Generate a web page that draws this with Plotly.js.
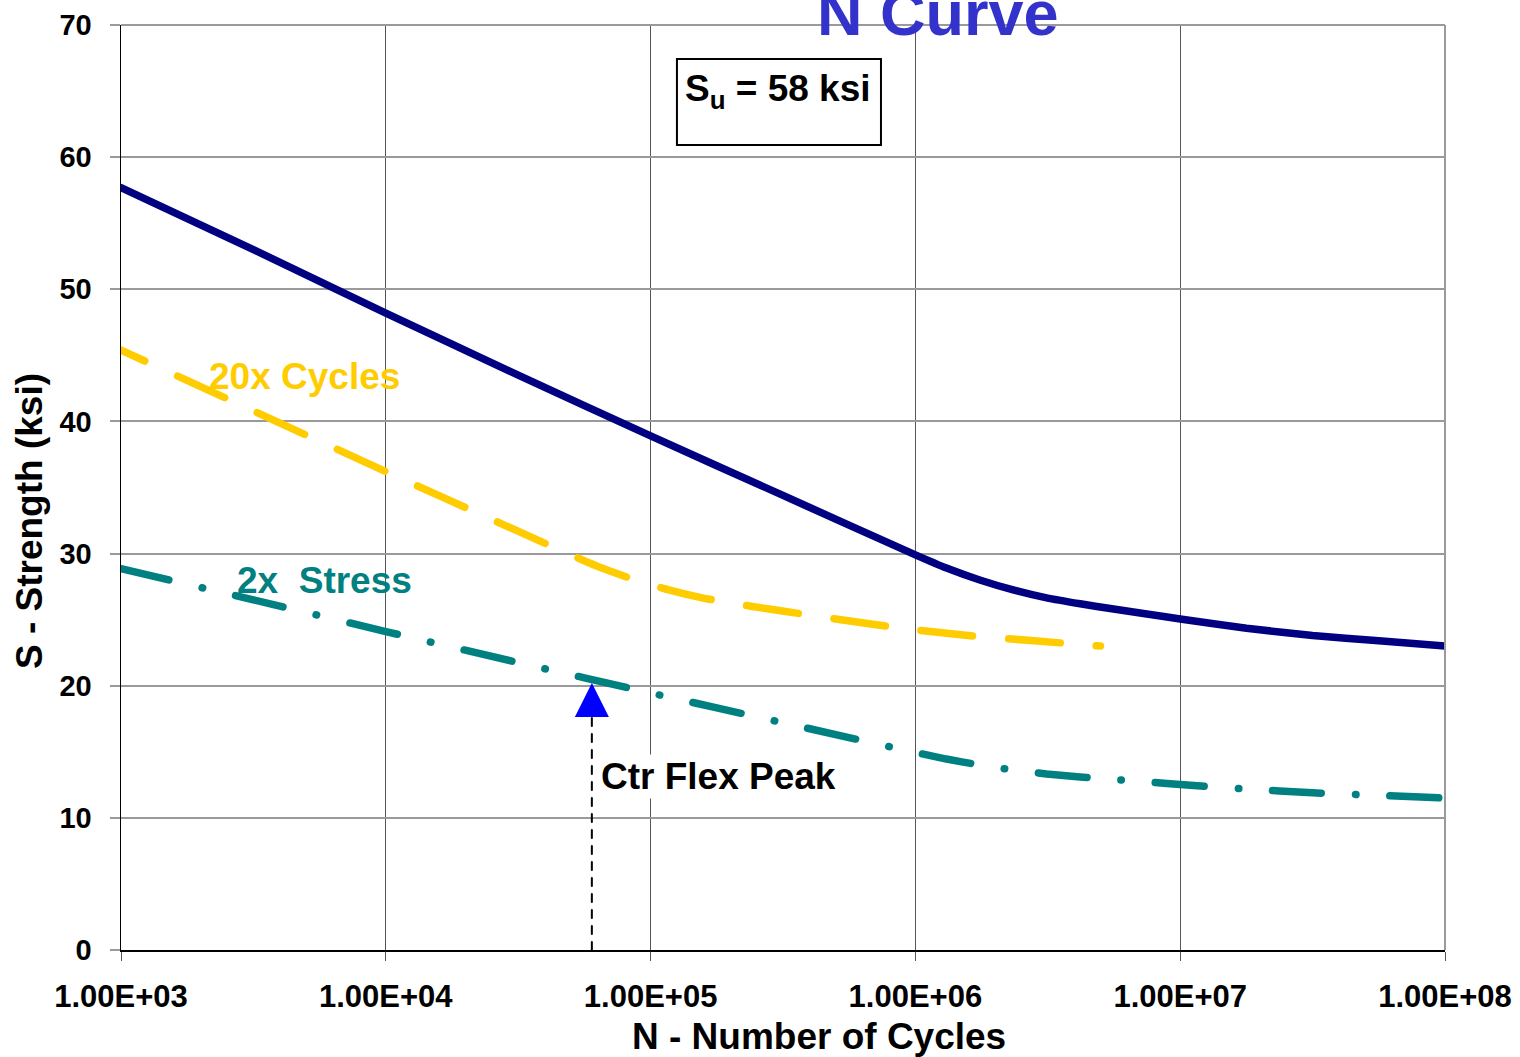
<!DOCTYPE html>
<html><head><meta charset="utf-8">
<script src="https://cdn.plot.ly/plotly-3.0.1.min.js"></script>
<style>
html,body{margin:0;padding:0;background:#fff;}
#chart{width:1520px;height:1057px;}
.scatterlayer .js-line{stroke-linecap:round;}
</style></head><body><div id="chart"></div>
<script>
// Base S-N curve
const blueN = [1000, 3162, 10000, 31623, 100000, 316228, 1000000, 1310000, 1750000, 2340000, 3130000, 4190000, 5600000, 7480000, 10000000, 17800000, 31600000, 56200000, 100000000];
const blueS = [57.7, 53.0, 48.2, 43.5, 38.9, 34.4, 29.9, 28.9, 28.0, 27.25, 26.65, 26.2, 25.8, 25.43, 25.05, 24.35, 23.8, 23.4, 23.0];
// 20x Cycles curve
const yellowN = [1000, 3162, 10000, 15811, 50000, 65500, 87500, 117000, 156500, 209500, 280000, 374000, 500000, 890000, 1580000, 2810000, 5000000];
const yellowS = [45.4, 40.8, 36.2, 34.4, 29.9, 28.9, 28.0, 27.25, 26.65, 26.2, 25.8, 25.43, 25.05, 24.35, 23.8, 23.4, 23.0];
// 2x Stress curve
const tealN = [1000, 3162, 10000, 31623, 100000, 316228, 1000000, 1310000, 1750000, 2340000, 3130000, 4190000, 5600000, 7480000, 10000000, 17800000, 31600000, 56200000, 100000000];
const tealS = [28.85, 26.5, 24.1, 21.75, 19.45, 17.2, 14.95, 14.45, 14.0, 13.62, 13.32, 13.1, 12.9, 12.72, 12.52, 12.18, 11.9, 11.7, 11.5];
// Ctr Flex Peak marker
const peakN = [60000];
const peakS = [20.2];
// Ticks
const xTickVals = [1e3, 1e4, 1e5, 1e6, 1e7, 1e8];
const xTickText = ['1.00E+03', '1.00E+04', '1.00E+05', '1.00E+06', '1.00E+07', '1.00E+08'];
const yTickVals = [0, 10, 20, 30, 40, 50, 60, 70];

const FONT = 'Liberation Sans, Arial, Helvetica, sans-serif';

const traces = [
  {x: tealN, y: tealS, mode: 'lines', hoverinfo: 'skip',
   line: {color: '#008080', width: 7.5, dash: '49px,34px,0.5px,34px', shape: 'spline', smoothing: 0.5}},
  {x: yellowN, y: yellowS, mode: 'lines', hoverinfo: 'skip',
   line: {color: '#FFCC00', width: 7.5, dash: '52px,36px', shape: 'spline', smoothing: 0.5}},
  {x: blueN, y: blueS, mode: 'lines', hoverinfo: 'skip',
   line: {color: '#000080', width: 7.5, shape: 'spline', smoothing: 0.5}},
  {x: [peakN[0], peakN[0]], y: [0, peakS[0]], mode: 'lines', hoverinfo: 'skip',
   line: {color: '#000000', width: 2, dash: '8px,8px'}},
  {x: peakN, y: peakS, mode: 'markers', hoverinfo: 'skip',
   marker: {symbol: 'arrow-up', size: 34, color: '#0000FF', line: {width: 0}}}
];

const layout = {
  width: 1520, height: 1057,
  margin: {l: 121, r: 75, t: 25, b: 107},
  paper_bgcolor: '#ffffff', plot_bgcolor: '#ffffff',
  showlegend: false,
  font: {family: FONT, color: '#000000'},
  xaxis: {
    type: 'log', range: [3, 8],
    tickmode: 'array', tickvals: xTickVals, ticktext: xTickText,
    tickfont: {size: 31, weight: 'bold', family: FONT},
    showgrid: true, gridcolor: '#555555', gridwidth: 1,
    ticks: 'outside', ticklen: 9, tickcolor: '#555555', tickwidth: 1,
    ticklabelstandoff: 9,
    showline: true, linecolor: '#000000', linewidth: 2,
    zeroline: false
  },
  yaxis: {
    range: [0, 70],
    tickmode: 'array', tickvals: yTickVals,
    tickfont: {size: 29, weight: 'bold', family: FONT},
    showgrid: true, gridcolor: '#9a9a9a', gridwidth: 2,
    ticks: 'outside', ticklen: 10, tickcolor: '#9a9a9a', tickwidth: 2,
    ticklabelstandoff: 12,
    showline: true, linecolor: '#000000', linewidth: 1.5,
    zeroline: false
  },
  shapes: [
    {type: 'line', xref: 'paper', yref: 'paper', x0: 1, x1: 1, y0: 0, y1: 1, line: {color: '#9a9a9a', width: 2}},
    {type: 'line', xref: 'paper', yref: 'paper', x0: 0, x1: 1, y0: 1, y1: 1, line: {color: '#9a9a9a', width: 2}},
    {type: 'rect', xref: 'paper', yref: 'paper', x0: 0.4199, x1: 0.574, y0: 0.8703, y1: 0.9632,
     line: {color: '#000000', width: 2}, fillcolor: '#ffffff', layer: 'above'}
  ],
  annotations: [
    {text: 'N Curve', xref: 'paper', yref: 'paper', x: 0.6171, y: 0.973, xanchor: 'center', yanchor: 'bottom',
     showarrow: false, font: {size: 63, weight: 'bold', color: '#3333CC', family: FONT}},
    {text: 'S<sub>u</sub> = 58 ksi', xref: 'paper', yref: 'paper', x: 0.4245, y: 0.9286, xanchor: 'left', yanchor: 'middle',
     showarrow: false, font: {size: 37, weight: 'bold', color: '#000000', family: FONT}},
    {text: '20x Cycles', xref: 'paper', yref: 'paper', x: 0.065, y: 0.6205, xanchor: 'left', yanchor: 'middle',
     showarrow: false, font: {size: 37, weight: 'bold', color: '#FFCC00', family: FONT}},
    {text: '2x\u00a0 Stress', xref: 'paper', yref: 'paper', x: 0.0861, y: 0.4, xanchor: 'left', yanchor: 'middle',
     showarrow: false, font: {size: 37, weight: 'bold', color: '#008080', family: FONT}},
    {text: 'Ctr Flex Peak', xref: 'paper', yref: 'paper', x: 0.3610, y: 0.1881, xanchor: 'left', yanchor: 'middle',
     showarrow: false, bgcolor: '#ffffff', font: {size: 37, weight: 'bold', color: '#000000', family: FONT}},
    {text: 'N - Number of Cycles', xref: 'paper', yref: 'paper', x: 0.5272, y: -0.094, xanchor: 'center', yanchor: 'middle',
     showarrow: false, font: {size: 37, weight: 'bold', color: '#000000', family: FONT}},
    {text: 'S - Strength (ksi)', xref: 'paper', yref: 'paper', x: -0.0687, y: 0.4638, xanchor: 'center', yanchor: 'middle',
     textangle: -90, showarrow: false, font: {size: 37, weight: 'bold', color: '#000000', family: FONT}}
  ]
};

Plotly.newPlot('chart', traces, layout, {staticPlot: true, displayModeBar: false}).then(function () {
  const lines = document.querySelectorAll('.scatterlayer .trace');
  if (lines[1]) {
    const p = lines[1].querySelector('.js-line');
    if (p) p.style.strokeDashoffset = '26px';
  }
});
</script>
</body></html>
